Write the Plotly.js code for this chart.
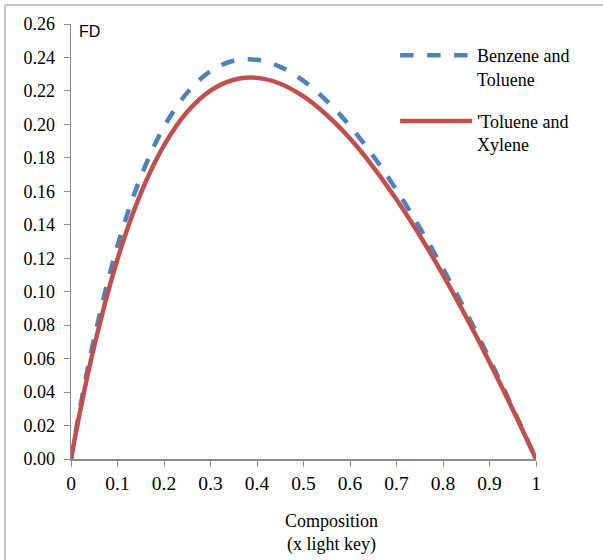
<!DOCTYPE html>
<html>
<head>
<meta charset="utf-8">
<script src="https://cdn.plot.ly/plotly-3.0.1.min.js"></script>
<style>html,body{margin:0;padding:0;background:#fff;}#chart{width:603px;height:560px;}</style>
</head>
<body>
<div id="chart"></div>
<script>
const composition = [0, 0.02, 0.05, 0.1, 0.15, 0.2, 0.25, 0.3, 0.35, 0.4, 0.45, 0.5, 0.55, 0.6, 0.65, 0.7, 0.75, 0.8, 0.85, 0.9, 0.95, 1];
const benzeneToluene = [0, 0.0313, 0.0724, 0.1275, 0.1686, 0.1985, 0.2190, 0.2318, 0.2380, 0.2386, 0.2344, 0.2260, 0.2141, 0.1990, 0.1811, 0.1608, 0.1383, 0.1138, 0.0876, 0.0598, 0.0305, 0];
const tolueneXylene = [0, 0.0291, 0.0675, 0.1194, 0.1587, 0.1874, 0.2075, 0.2202, 0.2267, 0.2278, 0.2243, 0.2167, 0.2056, 0.1915, 0.1745, 0.1551, 0.1336, 0.1101, 0.0848, 0.0579, 0.0296, 0];
const seriesNames = ["Benzene and<br>Toluene", "'Toluene and<br>Xylene"];
const xTickVals = [0, 0.1, 0.2, 0.3, 0.4, 0.5, 0.6, 0.7, 0.8, 0.9, 1];
const xTickText = ["0", "0.1", "0.2", "0.3", "0.4", "0.5", "0.6", "0.7", "0.8", "0.9", "1"];
const yTickVals = [0, 0.02, 0.04, 0.06, 0.08, 0.10, 0.12, 0.14, 0.16, 0.18, 0.20, 0.22, 0.24, 0.26];
const yTickText = yTickVals.map(v => v.toFixed(2));

const serif = "'Liberation Serif', 'Times New Roman', serif";

const traces = [
  {x: composition, y: benzeneToluene, name: seriesNames[0], type: "scatter", mode: "lines",
   line: {color: "#4F81BD", width: 4.5, dash: "dash", shape: "spline"}, legendgroup: "a"},
  {x: composition, y: tolueneXylene, name: seriesNames[1], type: "scatter", mode: "lines",
   line: {color: "#C0504D", width: 4.5, shape: "spline"}, legendgroup: "b"}
];

const layout = {
  width: 603, height: 560,
  margin: {l: 71, r: 67, t: 24, b: 101},
  paper_bgcolor: "#fff", plot_bgcolor: "#fff",
  font: {family: serif, size: 18, color: "#000"},
  showlegend: true,
  legend: {x: 0.697, y: 0.970, xanchor: "left", yanchor: "top", traceorder: "grouped",
    tracegroupgap: 16, itemwidth: 72, valign: "top", font: {family: serif, size: 18, color: "#000"},
    bgcolor: "rgba(0,0,0,0)"},
  xaxis: {range: [0, 1], tickvals: xTickVals, ticktext: xTickText, ticks: "outside", ticklen: 6,
    tickcolor: "#8c8c8c", showline: true, linecolor: "#8c8c8c", linewidth: 1.5, showgrid: false,
    zeroline: false, tickfont: {family: serif, size: 19.5, color: "#000"}, fixedrange: true},
  yaxis: {range: [0, 0.26], tickvals: yTickVals, ticktext: yTickText, ticks: "outside", ticklen: 6,
    tickcolor: "#8c8c8c", showline: true, linecolor: "#8c8c8c", linewidth: 1.5, showgrid: false,
    zeroline: false, ticklabelstandoff: 5, tickfont: {family: serif, size: 18, color: "#000"}, fixedrange: true},
  annotations: [
    {text: "FD", xref: "paper", yref: "paper", x: 0.013, y: 0.983, xanchor: "left", yanchor: "middle",
     showarrow: false, font: {family: "'Liberation Sans', Arial, sans-serif", size: 16, color: "#000"}},
    {text: "Composition<br>(x light key)", xref: "paper", yref: "paper", x: 0.561, y: -0.170,
     xanchor: "center", yanchor: "middle", showarrow: false, font: {family: serif, size: 18, color: "#000"}}
  ],
  shapes: [
    {type: "line", xref: "paper", yref: "paper", x0: -0.1419, x1: 1.16, y0: 1.0437, y1: 1.0437,
     line: {color: "#8c8c8c", width: 1}},
    {type: "line", xref: "paper", yref: "paper", x0: -0.1419, x1: -0.1419, y0: 1.0437, y1: -0.25,
     line: {color: "#8c8c8c", width: 1}}
  ]
};

Plotly.newPlot("chart", traces, layout, {displayModeBar: false, staticPlot: true});
</script>
</body>
</html>
